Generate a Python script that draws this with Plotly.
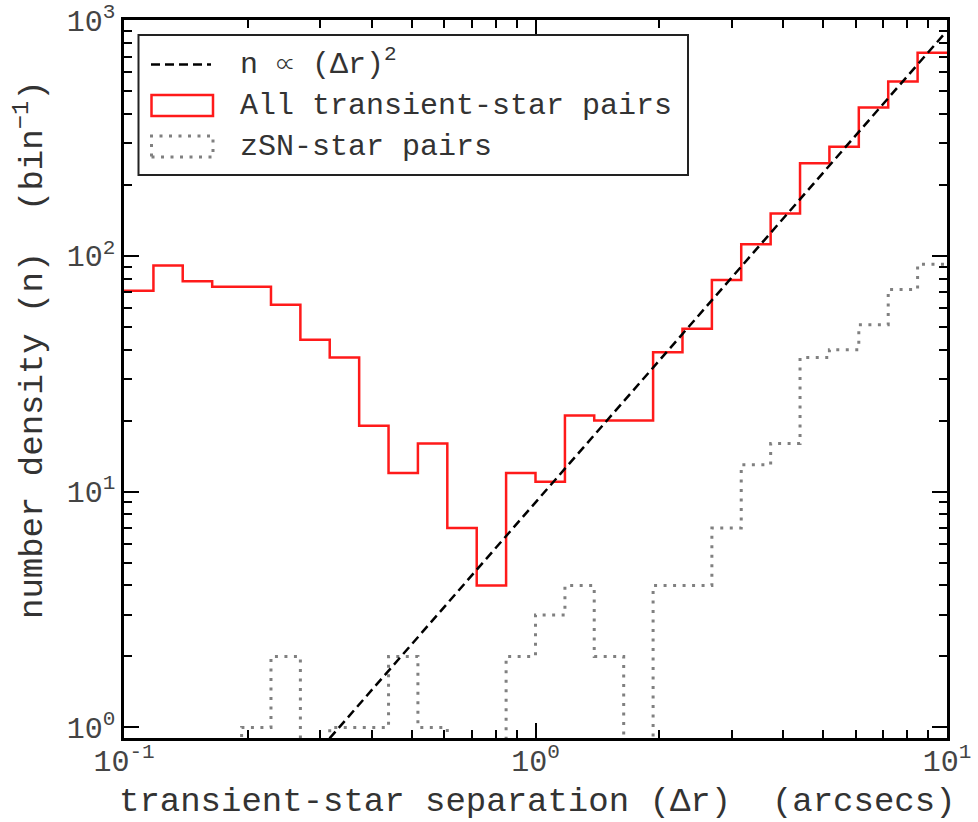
import plotly.graph_objects as go

# ---- data ----
bin_edges = [0.1, 0.1179, 0.1389, 0.1638, 0.1931, 0.2276, 0.2683, 0.3162, 0.3728,
             0.4394, 0.5179, 0.6105, 0.7197, 0.8483, 1.0, 1.179, 1.389, 1.638,
             1.931, 2.276, 2.683, 3.162, 3.728, 4.394, 5.179, 6.105, 7.197, 8.483, 10.0]
all_pairs = [71, 91, 78, 74, 74, 62, 44, 37, 19, 12, 16, 7, 4, 12, 11, 21, 20, 20,
             39, 49, 79, 112, 151, 247, 290, 425, 548, 726]
zsn_pairs = [0, 0, 0, 0, 1, 2, 0, 1, 1, 2, 1, 0, 0, 2, 3, 4, 2, 0,
             4, 4, 7, 13, 16, 37, 40, 51, 72, 92]
powerlaw_norm = 9.0
powerlaw_x = [0.3, 10.0]

x_tickvals = [0.1, 1, 10]
x_ticktext = ["10<sup>-1</sup>", "10<sup>0</sup>", "10<sup>1</sup>"]
y_tickvals = [1, 10, 100, 1000]
y_ticktext = ["10<sup>0</sup>", "10<sup>1</sup>", "10<sup>2</sup>", "10<sup>3</sup>"]

FONT = "Courier New, Nimbus Mono PS, FreeMono, Liberation Mono, monospace"
FLOOR = 0.01


def step_xy(edges, vals):
    xs, ys = [], []
    for i, v in enumerate(vals):
        y = v if v > 0 else FLOOR
        xs += [edges[i], edges[i + 1]]
        ys += [y, y]
    return xs, ys


fig = go.Figure()

gx, gy = step_xy(bin_edges, zsn_pairs)
fig.add_trace(go.Scatter(x=gx, y=gy, mode="lines", name="zSN-star pairs",
                         line=dict(color="#808080", width=3, dash="3px,6.5px")))

rx, ry = step_xy(bin_edges, all_pairs)
fig.add_trace(go.Scatter(x=rx, y=ry, mode="lines", name="All transient-star pairs",
                         line=dict(color="#ff1a1a", width=2.5)))

fig.add_trace(go.Scatter(x=powerlaw_x, y=[powerlaw_norm * v ** 2 for v in powerlaw_x],
                         mode="lines", name="n \u221d (\u0394r)<sup>2</sup>",
                         line=dict(color="black", width=2.5, dash="9px,5px")))

minor_x = [m * d for d in (0.1, 1) for m in range(2, 10)]
minor_y = [m * d for d in (1, 10, 100) for m in range(2, 10)]

axis_common = dict(
    showline=True, linecolor="black", linewidth=2.5, mirror="ticks",
    ticks="inside", ticklen=15, tickwidth=2.2, tickcolor="black",
    showgrid=False, zeroline=False, automargin=False,
    tickfont=dict(family=FONT, size=30, color="#444444"),
)

fig.update_xaxes(type="log", range=[-1, 1], tickmode="array",
                 tickvals=x_tickvals, ticktext=x_ticktext, ticklabelstandoff=-6,
                 minor=dict(tickmode="array", tickvals=minor_x, ticks="inside",
                            ticklen=8, tickwidth=2, tickcolor="black"),
                 **axis_common)
fig.update_yaxes(type="log", range=[-0.045, 3.0], tickmode="array",
                 tickvals=y_tickvals, ticktext=y_ticktext,
                 minor=dict(tickmode="array", tickvals=minor_y, ticks="inside",
                            ticklen=8, tickwidth=2, tickcolor="black"),
                 **axis_common)

L, R, T, B = 124, 31, 20, 84
W, H = 978, 822
PW, PH = W - L - R, H - T - B


def px(x):
    return (x - L) / PW


def py(y):
    return (H - B - y) / PH


shapes = [
    dict(type="rect", xref="paper", yref="paper", x0=px(138.5), x1=px(688),
         y0=py(175), y1=py(35), line=dict(color="#222222", width=2),
         fillcolor="white", layer="above"),
    dict(type="line", xref="paper", yref="paper", x0=px(151), x1=px(211),
         y0=py(64.5), y1=py(64.5), line=dict(color="black", width=2.5, dash="9px,5px"),
         layer="above"),
    dict(type="rect", xref="paper", yref="paper", x0=px(151.5), x1=px(213),
         y0=py(116), y1=py(95), line=dict(color="#ff1a1a", width=2.5), layer="above"),
    dict(type="rect", xref="paper", yref="paper", x0=px(151.5), x1=px(213),
         y0=py(157), y1=py(136), line=dict(color="#808080", width=3, dash="3px,6.5px"),
         layer="above"),
]

legend_font = dict(family=FONT, size=30, color="#333333")
annotations = [
    dict(text="n \u221d (\u0394r)<sup>2</sup>", x=px(238), y=py(62), xref="paper", yref="paper",
         xanchor="left", yanchor="middle", showarrow=False, font=legend_font),
    dict(text="All transient-star pairs", x=px(238), y=py(106), xref="paper", yref="paper",
         xanchor="left", yanchor="middle", showarrow=False, font=legend_font),
    dict(text="zSN-star pairs", x=px(238), y=py(147), xref="paper", yref="paper",
         xanchor="left", yanchor="middle", showarrow=False, font=legend_font),
    dict(text="transient-star separation (\u0394r)  (arcsecs)", x=px(537), y=py(802),
         xref="paper", yref="paper", xanchor="center", yanchor="middle", showarrow=False,
         font=dict(family=FONT, size=34, color="#333333")),
    dict(text="number density (n)  (bin<sup>\u22121</sup>)", x=px(30), y=py(350),
         xref="paper", yref="paper", xanchor="center", yanchor="middle", showarrow=False,
         textangle=-90, font=dict(family=FONT, size=34, color="#333333")),
]

fig.update_layout(
    width=W, height=H,
    margin=dict(l=L, r=R, t=T, b=B, autoexpand=False),
    paper_bgcolor="white", plot_bgcolor="white",
    showlegend=False,
    shapes=shapes, annotations=annotations,
)

fig.write_html("out.html")
